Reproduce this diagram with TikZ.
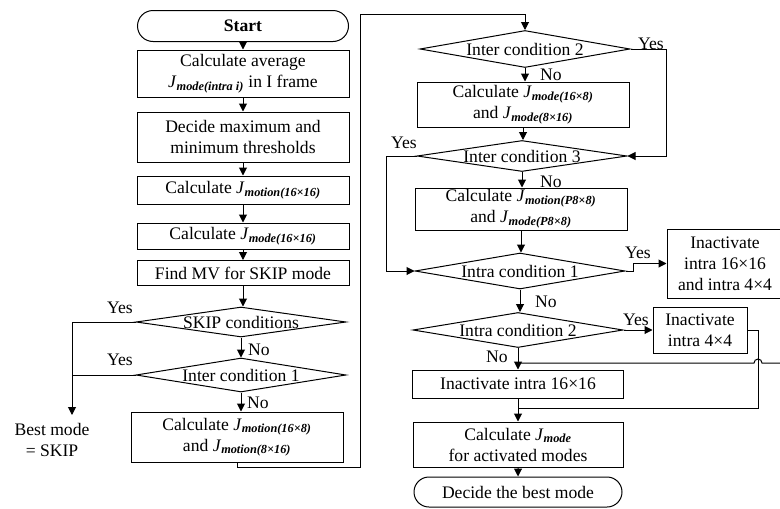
\documentclass[tikz,border=0pt]{standalone}
\usepackage{fontspec}
\setmainfont{Liberation Serif}
\usetikzlibrary{arrows.meta,shapes.geometric,shapes.misc}
\newcommand\Jsym[1]{\textit{J}\textsubscript{\textbf{\textit{#1}}}}
\begin{document}
\begin{tikzpicture}[x=1pt,y=-1pt,
  every node/.style={font=\fontsize{17.6}{21}\selectfont, inner sep=0pt},
  box/.style={draw, rectangle, align=center, minimum width=212pt, line width=1pt},
  term/.style={draw, rounded rectangle, align=center, minimum width=211pt, minimum height=31pt, line width=1pt},
  dec/.style={draw, diamond, minimum width=210pt, line width=1pt},
  flow/.style={line width=1pt},
  arr/.style={flow, -{Triangle[length=8pt,width=8pt]}},
]
\useasboundingbox (0,0) rectangle (780,509);
\clip (0,0) rectangle (780,509);

% left column
\node[term, font=\bfseries\fontsize{17.6}{21}\selectfont] (start) at (243,26) {Start};
\node[box, minimum height=47pt] (b1) at (243,73.5) {Calculate average\\ \Jsym{mode(intra i)} in I frame};
\node[box, minimum height=50pt] (b2) at (243,137) {Decide maximum and\\ minimum thresholds};
\node[box, minimum height=28pt] (b3) at (243,190) {Calculate \Jsym{motion(16×16)}};
\node[box, minimum height=26pt] (b4) at (243,236) {Calculate \Jsym{mode(16×16)}};
\node[box, minimum height=25pt] (b5) at (243,273) {Find MV for SKIP mode};
\node[dec, minimum height=30pt, label=center:{SKIP conditions}] (d1) at (241,322) {};
\node[dec, minimum height=34pt, label=center:{Inter condition 1}] (d2) at (241,375) {};
\node[box, minimum height=50pt] (b6) at (237,437) {Calculate \Jsym{motion(16×8)}\\ and \Jsym{motion(8×16)}};
\node[align=center] (best) at (52,440) {Best mode\\= SKIP};
\coordinate (bestin) at (72,415);
\coordinate (loopA) at (360,467);
\coordinate (loopB) at (360,14);

% right column
\node[dec, minimum height=37pt, label=center:{Inter condition 2}] (d3) at (525,49) {};
\node[box, minimum height=45pt] (b7) at (523,104.5) {Calculate \Jsym{mode(16×8)}\\ and \Jsym{mode(8×16)}};
\node[dec, minimum height=31pt, label=center:{Inter condition 3}] (d4) at (522,156) {};
\node[box, minimum height=42pt] (b8) at (521,209) {Calculate \Jsym{motion(P8×8)}\\ and \Jsym{mode(P8×8)}};
\node[dec, minimum height=36pt, label=center:{Intra condition 1}] (d5) at (520,271) {};
\node[box, minimum width=116pt, minimum height=69pt] (bx1) at (725,263.5) {Inactivate\\ intra 16×16\\ and intra 4×4};
\node[dec, minimum height=35pt, label=center:{Intra condition 2}] (d6) at (518,330) {};
\node[box, minimum width=94pt, minimum height=46pt] (bx2) at (700,330) {Inactivate\\ intra 4×4};
\node[box, minimum width=211pt, minimum height=28pt] (b9) at (518,384) {Inactivate intra 16×16};
\node[box, minimum width=210pt, minimum height=45pt] (b10) at (518,444.5) {Calculate \Jsym{mode}\\ for activated modes};
\node[term, minimum width=208pt, minimum height=30pt] (end) at (518,492) {Decide the best mode};
\coordinate (y2) at (666,49);
\coordinate (y3) at (386,156);
\coordinate (y4) at (633,271);
\coordinate (r5) at (758,408);
\coordinate (redge) at (790,363);

% labels
\node (ly1) at (120,308) {Yes};
\node (ly2) at (120,360) {Yes};
\node (ln1) at (259,350) {No};
\node (ln2) at (258,403) {No};
\node (ln3) at (551,75) {No};
\node (ly3) at (651,44) {Yes};
\node (ly4) at (404,143) {Yes};
\node (ln4) at (551,182) {No};
\node (ly5) at (638,253) {Yes};
\node (ln5) at (546,302) {No};
\node (ly6) at (636,320) {Yes};
\node (ln6) at (497,357) {No};

% connectors left
\draw[arr] (start) -- (start |- b1.north);
\draw[arr] (b1) -- (b1 |- b2.north);
\draw[arr] (b2) -- (b2 |- b3.north);
\draw[arr] (b3) -- (b3 |- b4.north);
\draw[arr] (b4) -- (b4 |- b5.north);
\draw[arr] (b5) -- (b5 |- d1.north);
\draw[arr] (d1) -- (d1 |- d2.north);
\draw[arr] (d2.south) -- (d2.south |- b6.north);
\draw[arr] (d1.west) -| (bestin);
\draw[flow] (d2.west) -- (d2.west -| bestin);
\draw[arr] (b6.south) |- (loopA) -- (loopB) -| (d3.north);

% connectors right
\draw[arr] (d3.south) -- (d3.south |- b7.north);
\draw[arr] (b7.south) -- (b7.south |- d4.north);
\draw[arr] (d4.south) -- (d4.south |- b8.north);
\draw[arr] (b8.south) -- (b8.south |- d5.north);
\draw[arr] (d5.south) -- (d5.south |- d6.north);
\draw[arr] (d6.south) -- (d6.south |- b9.north);
\draw[arr] (b9) -- (b10);
\draw[arr] (b10) -- (end);
\draw[arr] (d3.east) -- (y2) |- (d4.east);
\draw[arr] (d4.west) -- (y3) |- (d5.west);
\draw[arr] (d5.east) -- (y4) |- (bx1.west);
\draw[arr] (d6.east) -- (bx2.west);
\draw[flow] (bx2.east) -| (r5) -- (r5 -| b10.north);
\draw[flow] (redge) -- (762,363) arc[start angle=0, end angle=-180, radius=4] -- (redge -| b9.north);
\end{tikzpicture}
\end{document}
